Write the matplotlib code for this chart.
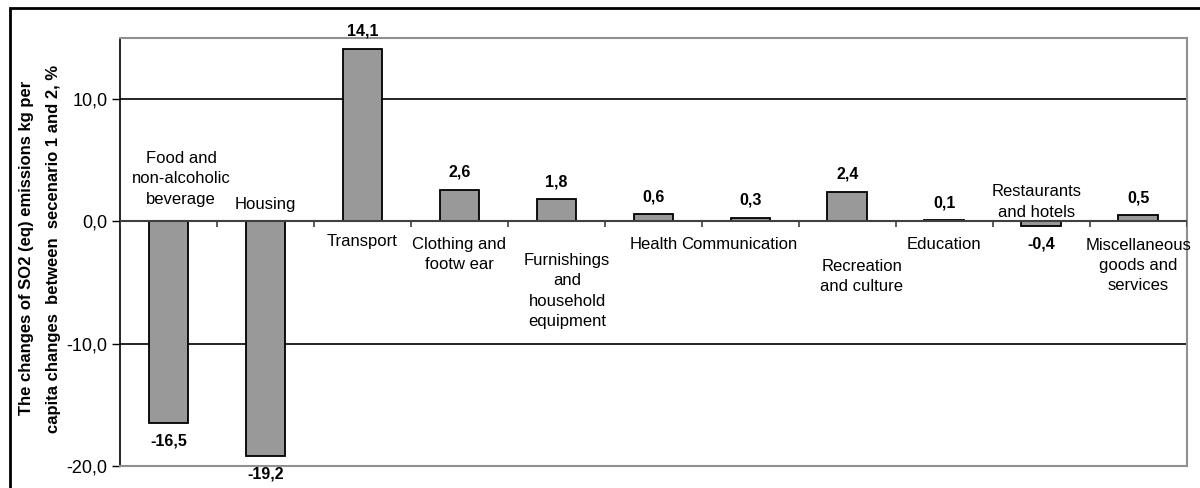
import numpy as np
import matplotlib
matplotlib.use('Agg')
import matplotlib.pyplot as plt
from matplotlib.patches import Rectangle

# data
categories = ['Food and\nnon-alcoholic\nbeverage', 'Housing', 'Transport',
              'Clothing and\nfootw ear', 'Furnishings\nand\nhousehold\nequipment',
              'Health', 'Communication', 'Recreation\nand culture', 'Education',
              'Restaurants\nand hotels', 'Miscellaneous\ngoods and\nservices']
values = [-16.5, -19.2, 14.1, 2.6, 1.8, 0.6, 0.3, 2.4, 0.1, -0.4, 0.5]
value_labels = ['-16,5', '-19,2', '14,1', '2,6', '1,8', '0,6', '0,3', '2,4', '0,1', '-0,4', '0,5']
ytick_vals = [-20, -10, 0, 10]
ytick_labels = ['-20,0', '-10,0', '0,0', '10,0']

# where the category labels sit (as in the original, placed by hand)
label_dx = [0.13, 0, 0, 0, 0.11, 0, -0.11, 0.15, 0, -0.05, 0]
label_y = [3.5, 1.4, -1.6, -2.7, -5.7, -1.9, -1.9, -4.5, -1.9, 1.6, -3.6]

plt.rcParams['font.family'] = ['Liberation Sans', 'DejaVu Sans']

fig = plt.figure(figsize=(12, 4.88), dpi=100)
ax = fig.add_axes([0.1, 0.045, 0.889, 0.877])

x = np.arange(len(categories))
ax.bar(x, values, width=0.41, color='#999999', edgecolor='black', linewidth=1.3, zorder=3)

ax.set_xlim(-0.5, len(categories) - 0.5)
ax.set_ylim(-20, 15)

# grid lines and zero axis
for g in [10, -10]:
    ax.axhline(g, color='black', lw=1.2, zorder=1)
ax.axhline(0, color='#404040', lw=1.5, zorder=4)
ax.vlines(np.arange(-0.5, len(categories)), 0, -0.45, color='#404040', lw=1.2, zorder=4)

ax.set_yticks(ytick_vals)
ax.set_yticklabels(ytick_labels, fontsize=13)
ax.set_xticks([])
ax.tick_params(axis='y', length=6, width=1, pad=3, direction='out')

for side in ['top', 'right', 'bottom']:
    ax.spines[side].set_color('#909090')
    ax.spines[side].set_linewidth(1.5)
ax.spines['left'].set_color('black')
ax.spines['left'].set_linewidth(1.2)

# value labels
for i, (v, t) in enumerate(zip(values, value_labels)):
    off = 12.7 if v >= 0 else -12.7
    ax.annotate(t, (i, v), xytext=(0, off), textcoords='offset points',
                ha='center', va='center', fontsize=11.5, fontweight='bold',
                annotation_clip=False)

# category labels
for i, c in enumerate(categories):
    ax.text(i + label_dx[i], label_y[i], c, ha='center', va='center',
            fontsize=12, linespacing=1.45, zorder=5)

# y axis title, two lines
fig.text(27 / 1200, 1 - 248 / 488, 'The changes of SO2 (eq) emissions kg per',
         rotation=90, ha='center', va='center', fontsize=12, fontweight='bold')
fig.text(54 / 1200, 1 - 249 / 488, 'capita changes  between  secenario 1 and 2, %',
         rotation=90, ha='center', va='center', fontsize=12, fontweight='bold')

# chart frame (only top and left edges visible)
fig.add_artist(Rectangle((10 / 1200, -0.1), 1.2, 1 - 8 / 488 + 0.1,
                         transform=fig.transFigure, fill=False, lw=2, ec='black'))

fig.savefig('out.png', dpi=100)
